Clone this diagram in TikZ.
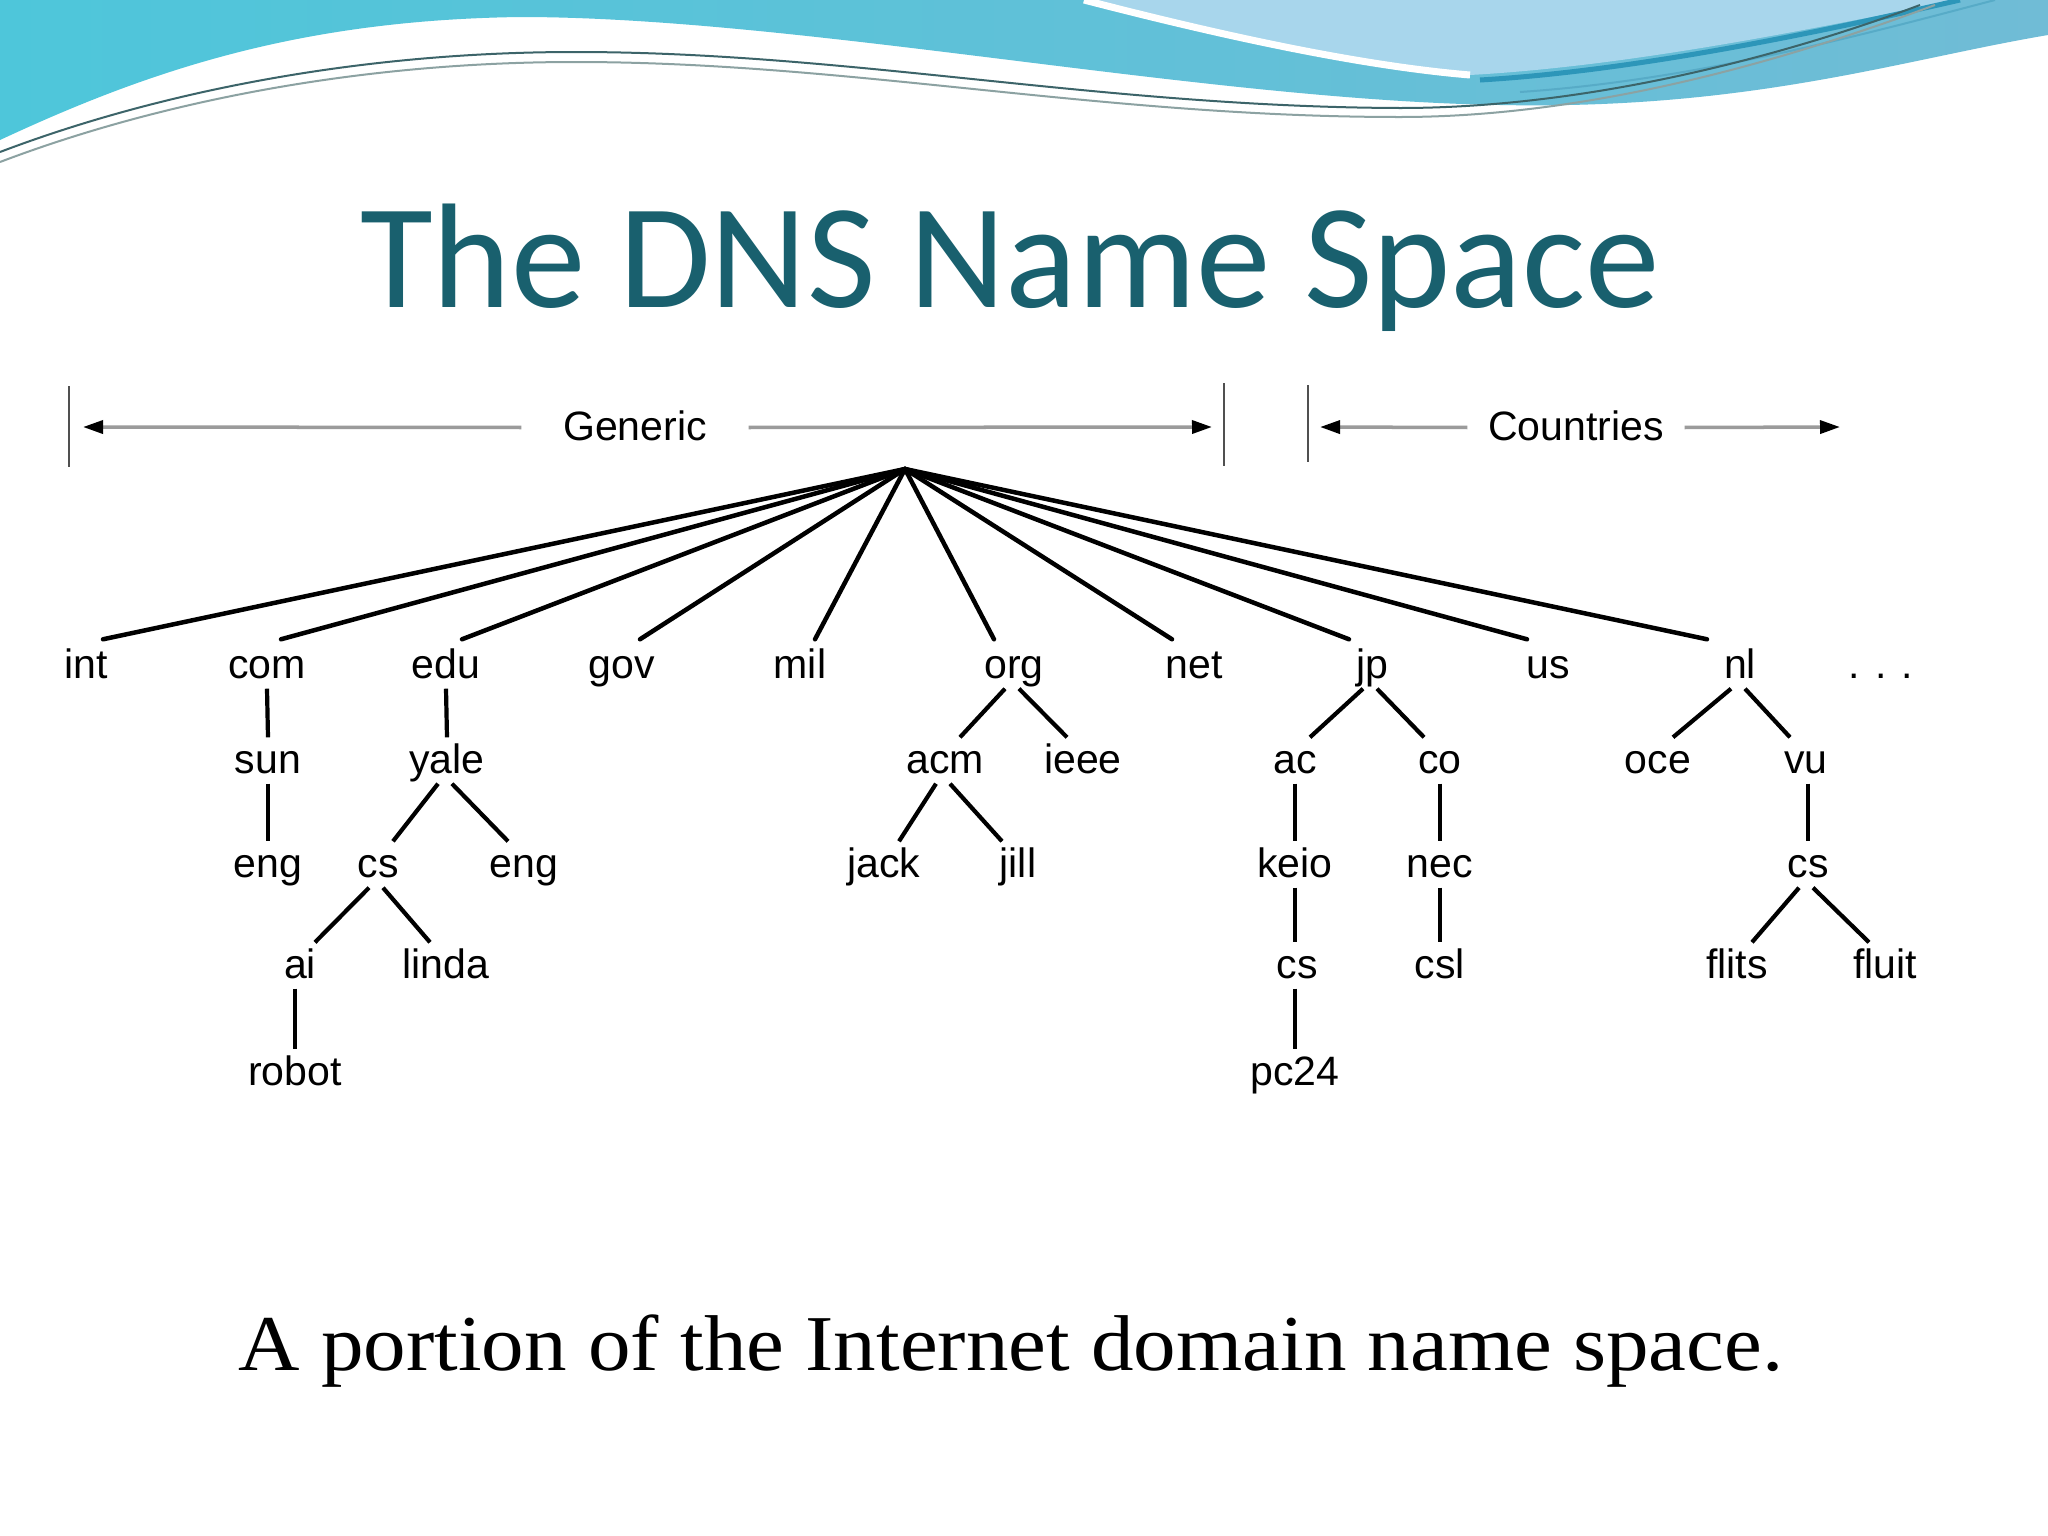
\documentclass[tikz,border=0pt]{standalone}
\usepackage{fontspec}
\setmainfont{Liberation Sans}
\newfontfamily\titlefont{Carlito}
\newfontfamily\capfont[FakeStretch=1.075]{Liberation Serif}
\usetikzlibrary{arrows.meta,calc}
\definecolor{titlecol}{RGB}{25,96,110}
\definecolor{tealL}{RGB}{78,198,218}
\definecolor{tealR}{RGB}{112,188,214}
\definecolor{lightB}{RGB}{168,214,236}
\definecolor{darkT}{RGB}{45,150,185}
\definecolor{waveA}{RGB}{60,100,105}
\definecolor{waveB}{RGB}{140,162,162}
\definecolor{barcol}{RGB}{80,80,80}
\definecolor{dimcol}{RGB}{155,155,155}
\begin{document}
\begin{tikzpicture}[x=0.01cm,y=-0.01cm,
  lbl/.style={anchor=base, inner xsep=0pt, inner ysep=0.02cm, text height=0.33cm, text depth=0.08cm, font=\fontsize{11.67}{14}\selectfont},
  tree/.style={line width=0.042cm, black},
  fan/.style={line width=0.045cm, black, line cap=round},
  bar/.style={line width=0.022cm, draw=barcol},
  dim/.style={line width=0.035cm, draw=dimcol, -{Triangle[length=0.2cm,width=0.13cm,color=black]}},
]
\useasboundingbox (0,0) rectangle (2048,1536);
\fill[white] (0,0) rectangle (2048,1536);

% ---- top wave ----
\shade[left color=tealL, right color=tealR]
  (0,0) -- (0,140) .. controls (150,70) and (300,20) .. (520,17)
  .. controls (800,17) and (1200,100) .. (1500,105)
  .. controls (1750,110) and (1900,60) .. (2048,35) -- (2048,0) -- cycle;
\fill[lightB] (1084,0) .. controls (1200,30) and (1350,65) .. (1470,75)
  .. controls (1650,65) and (1850,20) .. (1960,0) -- cycle;
\draw[white, line width=0.07cm] (1084,0) .. controls (1200,30) and (1350,65) .. (1470,75);
\draw[darkT, line width=0.05cm] (1960,0) .. controls (1850,25) and (1650,70) .. (1480,80);
\draw[darkT!80, line width=0.02cm] (1995,0) .. controls (1880,30) and (1700,80) .. (1520,92);
\draw[waveA, line width=0.02cm] (0,152) .. controls (150,95) and (350,52) .. (575,52)
  .. controls (850,52) and (1100,107) .. (1400,108)
  .. controls (1600,108) and (1800,50) .. (1920,5);
\draw[waveB, line width=0.02cm] (0,162) .. controls (150,105) and (350,62) .. (575,62)
  .. controls (850,62) and (1100,117) .. (1400,117)
  .. controls (1600,117) and (1800,55) .. (1935,5);

% ---- title and caption ----
\node[anchor=base, inner sep=0pt, text=titlecol, font=\titlefont\fontsize{42.4}{50}\selectfont] (title) at (1010,307) {The DNS Name Space};
\node[anchor=base, inner sep=0pt, font=\capfont\fontsize{22.5}{27}\selectfont] (caption) at (1011,1370) {A portion of the Internet domain name space.};

% ---- Generic / Countries ----
\draw[bar] (69,386) -- (69,467);
\draw[bar] (1224,383) -- (1224,466);
\draw[bar] (1308,385) -- (1308,462);
\coordinate (gL) at (83,427);
\coordinate (gR) at (1212,427);
\coordinate (cL) at (1320,427);
\coordinate (cR) at (1840,427);
\node[lbl, inner xsep=0.41cm] (generic) at (635,440) {Generic};
\node[lbl, inner xsep=0.2cm] (countries) at (1576,440) {Countries};
\draw[dim] (generic.west) -- (gL);
\draw[dim] (generic.east) -- (gR);
\draw[dim] (countries.west) -- (cL);
\draw[dim] (countries.east) -- (cR);

% ---- tree ----
\coordinate (root) at (905,469);
% level 1
\node[lbl] (int) at (86,678) {int};
\node[lbl] (com) at (267,678) {com};
\node[lbl] (edu) at (446,678) {edu};
\node[lbl] (gov) at (622,678) {gov};
\node[lbl] (mil) at (800,678) {mil};
\node[lbl] (org) at (1014,678) {org};
\node[lbl] (net) at (1194,678) {net};
\node[lbl] (jp) at (1372,678) {jp};
\node[lbl] (us) at (1548,678) {us};
\node[lbl] (nl) at (1740,678) {nl};
\node[lbl] (more) at (1881,678) {. . .};
% level 2
\node[lbl] (sun) at (268,773) {sun};
\node[lbl] (yale) at (447,773) {yale};
\node[lbl] (acm) at (945,773) {acm};
\node[lbl] (ieee) at (1083,773) {ieee};
\node[lbl] (ac) at (1295,773) {ac};
\node[lbl] (co) at (1440,773) {co};
\node[lbl] (oce) at (1658,773) {oce};
\node[lbl] (vu) at (1806,773) {vu};
% level 3
\node[lbl] (engA) at (268,877) {eng};
\node[lbl] (csA) at (378,877) {cs};
\node[lbl] (engB) at (524,877) {eng};
\node[lbl] (jack) at (884,877) {jack};
\node[lbl] (jill) at (1018,877) {jill};
\node[lbl] (keio) at (1295,877) {keio};
\node[lbl] (nec) at (1440,877) {nec};
\node[lbl] (csC) at (1808,877) {cs};
% level 4
\node[lbl] (ai) at (300,978) {ai};
\node[lbl] (linda) at (446,978) {linda};
\node[lbl] (csB) at (1297,978) {cs};
\node[lbl] (csl) at (1440,978) {csl};
\node[lbl] (flits) at (1737,978) {flits};
\node[lbl] (fluit) at (1885,978) {fluit};
% level 5
\node[lbl] (robot) at (295,1085) {robot};
\node[lbl] (pc24) at (1295,1085) {pc24};

% fan from root
\foreach \n/\dx in {int/17,com/14,edu/16,gov/18,mil/15,org/-20,net/-22,jp/-23,us/-21,nl/-33}
  \draw[fan] (root) -- ($(\n.north)+(\dx,-3)$);

% vertical connectors
\draw[tree] (com.south) -- (sun.north);
\draw[tree] (sun.south) -- (engA.north);
\draw[tree] (edu.south) -- (yale.north);
\draw[tree] (robot.north |- ai.south) -- (robot.north);
\draw[tree] (ac.south) -- (keio.north);
\draw[tree] (keio.south) -- (keio.south |- csB.north);
\draw[tree] (pc24.north |- csB.south) -- (pc24.north);
\draw[tree] (co.south) -- (nec.north);
\draw[tree] (nec.south) -- (csl.north);
\draw[tree] (csC.north |- vu.south) -- (csC.north);

% diagonal connectors
\foreach \p/\c in {yale/csA, csA/ai, org/acm, acm/jack, jp/ac, nl/oce, csC/flits}
  \draw[tree] ($(\p.south)+(-9,0)$) -- ($(\c.north)+(15,0)$);
\foreach \p/\c in {yale/engB, csA/linda, org/ieee, acm/jill, jp/co, nl/vu, csC/fluit}
  \draw[tree] ($(\p.south)+(5,0)$) -- ($(\c.north)+(-16,0)$);
\end{tikzpicture}
\end{document}
